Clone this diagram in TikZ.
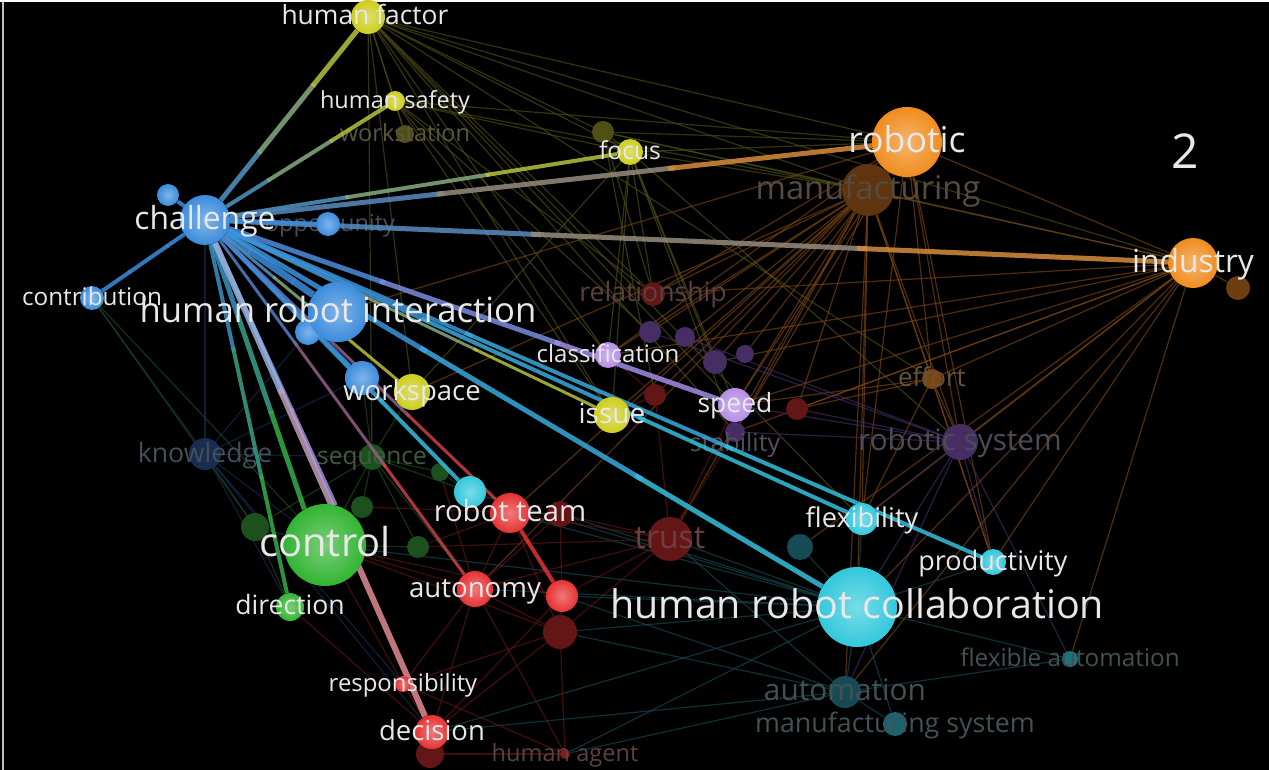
\documentclass[tikz,border=0pt]{standalone}
\usepackage{fontspec}
\setmainfont{Open Sans}
\usetikzlibrary{calc}

\definecolor{bluec}{RGB}{60,140,220}
\definecolor{yelc}{RGB}{205,205,30}
\definecolor{orac}{RGB}{240,140,30}
\definecolor{purc}{RGB}{180,140,230}
\definecolor{cyac}{RGB}{50,200,220}
\definecolor{grec}{RGB}{50,180,50}
\definecolor{redc}{RGB}{230,50,50}
\definecolor{labc}{RGB}{232,232,232}
% dim colours
\definecolor{dbrown}{RGB}{95,52,15}
\definecolor{dolive}{RGB}{80,80,22}
\definecolor{dred}{RGB}{100,22,22}
\definecolor{dpur}{RGB}{70,45,100}
\definecolor{dteal}{RGB}{22,75,85}
\definecolor{dgreen}{RGB}{28,80,28}
\definecolor{dnavy}{RGB}{25,45,80}
\definecolor{dtxt}{RGB}{68,68,68}

\pgfdeclarelayer{background}
\pgfdeclarelayer{faint}
\pgfdeclarelayer{dimn}
\pgfdeclarelayer{links}
\pgfsetlayers{background,faint,dimn,links,main}

\tikzset{
  bub/.style 2 args={circle, inner sep=0pt, minimum size=#2pt, shading=radial,
    inner color=#1!65!white, outer color=#1},
  dbub/.style 2 args={circle, inner sep=0pt, minimum size=#2pt, fill=#1},
  lbl/.style={text=labc, inner sep=0pt, anchor=base, yshift={-0.3*#1pt},
    font=\fontsize{#1}{#1}\selectfont},
  dlbl/.style 2 args={lbl=#1, text=#2},
  faint/.style={line width=1.2pt, draw=#1, opacity=.65},
  link/.style={line width=#1pt, opacity=.85},
}

% link with a colour run from one end to the other
\newcommand\link[5]{%
  \draw[link=#5, #3!85!#4] (#1) -- ($(#1)!.34!(#2)$);
  \draw[link=#5, #3!50!#4] ($(#1)!.33!(#2)$) -- ($(#1)!.67!(#2)$);
  \draw[link=#5, #3!15!#4] ($(#1)!.66!(#2)$) -- (#2);
}

\begin{document}
\begin{tikzpicture}[x=1pt,y=-1pt]
\begin{pgfonlayer}{background}
  \path[use as bounding box, fill=black] (0,0) rectangle (1269,768);
  \draw[white!75!black, line width=2pt] (3,0) -- (3,768);
\end{pgfonlayer}

% dim items
\begin{pgfonlayer}{dimn}
  \node[dbub={dbrown}{52}] (mfg) at (868,188) {};
  \node[dbub={dbrown!90!orac}{24}] (indd) at (1238,286) {};
  \node[dbub={dolive}{18}] (wst) at (405,132) {};
  \node[dbub={dolive}{22}] (fod) at (603,130) {};
  \node[dbub={dred}{24}] (rel) at (653,292) {};
  \node[dbub={dbrown!80!orac}{20}] (eff) at (932,377) {};
  \node[dbub={dpur}{36}] (rsys) at (960,440) {};
  \node[dbub={dnavy}{32}] (know) at (205,452) {};
  \node[dbub={dgreen}{26}] (seq) at (372,455) {};
  \node[dbub={dpur}{20}] (stab) at (735,430) {};
  \node[dbub={dred}{44}] (trust) at (670,537) {};
  \node[dbub={dteal}{32}] (autom) at (845,690) {};
  \node[dbub={dteal!80!cyac}{24}] (msys) at (895,722) {};
  \node[dbub={dteal!70!cyac}{16}] (fla) at (1070,657) {};
  \node[dbub={dred!80!redc}{10}] (hag) at (565,752) {};
  \node[dbub={dred}{28}] (decd) at (430,752) {};
  \node[dbub={dred}{34}] (red3) at (560,630) {};
  \node[dbub={dpur}{22}] (p1) at (650,330) {};
  \node[dbub={dpur}{20}] (p2) at (685,335) {};
  \node[dbub={dpur}{24}] (p3) at (715,360) {};
  \node[dbub={dpur}{18}] (p4) at (745,352) {};
  \node[dbub={dred}{22}] (r1) at (655,393) {};
  \node[dbub={dred}{22}] (r2) at (797,407) {};
  \node[dbub={dred}{26}] (r4) at (560,512) {};
  \node[dbub={dgreen}{28}] (g1) at (255,525) {};
  \node[dbub={dgreen}{22}] (g2) at (418,545) {};
  \node[dbub={dgreen}{22}] (g3) at (362,505) {};
  \node[dbub={dgreen}{18}] (g4) at (440,470) {};
  \node[dbub={dteal}{26}] (tl1) at (800,545) {};

  \node[dlbl={32.7}{dtxt!90!orac}] (mfg-l) at (mfg) {manufacturing};
  \node[dlbl={23.6}{dtxt!85!yelc}] (wst-l) at (wst) {workstation};
  \node[dlbl={26.6}{dtxt!85!redc}] (rel-l) at (rel) {relationship};
  \node[dlbl={26}{dtxt!80!orac}] (eff-l) at (eff) {effort};
  \node[dlbl={29.7}{dtxt!90!purc}] (rsys-l) at (rsys) {robotic system};
  \node[dlbl={26.7}{dtxt!85!bluec}] (know-l) at (know) {knowledge};
  \node[dlbl={24.5}{dtxt!80!grec}] (seq-l) at (seq) {sequence};
  \node[dlbl={25}{dtxt!85!purc}] (stab-l) at (735,442) {stability};
  \node[dlbl={32}{dtxt!75!redc}] (trust-l) at (trust) {trust};
  \node[dlbl={29.8}{dtxt!90!cyac}] (autom-l) at (autom) {automation};
  \node[dlbl={26.8}{dtxt!90!cyac}] (msys-l) at (msys) {manufacturing system};
  \node[dlbl={24.3}{dtxt!90!cyac}] (fla-l) at (fla) {flexible automation};
  \node[dlbl={23.6}{dtxt!85!redc}] (hag-l) at (hag) {human agent};
  \node[dlbl={23.5}{dtxt!85!bluec}] (opp-l) at (330,222) {opportunity};
\end{pgfonlayer}

% bright items
\node[bub={bluec}{50}] (chal) at (205,218) {};
\node[bub={bluec}{22}] (strat) at (168,193) {};
\node[bub={bluec}{24}] (opp) at (328,222) {};
\node[bub={bluec}{24}] (contr) at (92,296) {};
\node[bub={bluec}{26}] (hri2) at (308,330) {};
\node[bub={bluec}{60}] (hri) at (338,310) {};
\node[bub={bluec}{34}] (wsb) at (362,376) {};
\node[bub={yelc}{36}] (wsp) at (412,390) {};
\node[bub={yelc}{34}] (hf) at (368,15) {};
\node[bub={yelc}{20}] (hs) at (395,99) {};
\node[bub={yelc}{26}] (foc) at (630,150) {};
\node[bub={orac}{70}] (rob) at (907,140) {};
\node[bub={orac}{50}] (ind) at (1193,261) {};
\node[bub={purc}{26}] (cls) at (608,353) {};
\node[bub={purc}{34}] (spd) at (735,403) {};
\node[bub={yelc}{36}] (iss) at (612,413) {};
\node[bub={cyac}{32}] (flex) at (862,517) {};
\node[bub={cyac}{26}] (prod) at (993,560) {};
\node[bub={cyac}{80}] (hrc) at (857,605) {};
\node[bub={grec}{82}] (ctrl) at (325,543) {};
\node[bub={grec}{28}] (dir) at (290,605) {};
\node[bub={cyac}{32}] (rtc) at (470,490) {};
\node[bub={redc}{40}] (rteam) at (510,511) {};
\node[bub={redc}{36}] (aut) at (475,587) {};
\node[bub={redc}{32}] (red2) at (562,594) {};
\node[bub={redc}{16}] (resp) at (403,682) {};
\node[bub={redc}{34}] (dec) at (432,730) {};

% faint links
\begin{pgfonlayer}{faint}
  \foreach \b in {wst,hs,fod,foc,rob,mfg,ind,rel,cls,iss,eff,seq,wsp,stab,spd,flex}
    \draw[faint=dolive] (hf) -- (\b);
  \foreach \b in {wst,foc,rob,mfg,cls,iss,rel,p1}
    \draw[faint=dolive] (hs) -- (\b);
  \foreach \b in {fod,mfg,rob,iss,rel,cls,wsp,stab,spd,rsys,p3}
    \draw[faint=dolive] (foc) -- (\b);
  \foreach \b in {rob,mfg,ind,rel,r1}
    \draw[faint=dolive] (fod) -- (\b);
  \foreach \b in {rob,ind,cls,spd,iss,rel,rsys,eff,flex,prod,hrc,trust,stab,autom,rteam,aut,p1,p2,p3,wsp,r1,r2}
    \draw[faint=dbrown!80!orac] (mfg) -- (\b);
  \foreach \b in {ind,rsys,flex,prod,eff,cls,spd,rel,stab,hri,p4}
    \draw[faint=dbrown!80!orac] (rob) -- (\b);
  \foreach \b in {indd,eff,rsys,flex,prod,hrc,spd,stab,cls,rel,fla,p3,r2,autom,tl1}
    \draw[faint=dbrown!80!orac] (ind) -- (\b);
  \foreach \b in {rsys,spd,prod,flex,r2}
    \draw[faint=dbrown!80!orac] (eff) -- (\b);
  \foreach \b in {flex,prod,hrc,spd,stab,p1,p2,autom,fla,r2}
    \draw[faint=dpur] (rsys) -- (\b);
  \foreach \b in {autom,msys,fla,prod,flex,trust,red2,red3,aut,dec,hag,rteam,ctrl,tl1,rtc,r4}
    \draw[faint=dteal] (hrc) -- (\b);
  \foreach \b in {msys,fla,red3,dec,hag,trust,red2}
    \draw[faint=dteal] (autom) -- (\b);
  \foreach \a/\b in {red3/red2,red3/aut,red3/dec,red3/hag,red3/resp,red3/trust,red3/rteam,
      aut/dec,aut/resp,aut/trust,aut/hag,rteam/trust,rteam/aut,red2/trust,red2/dec,
      decd/hag,dec/resp,trust/r1,trust/r4,r4/aut,r4/red2,r1/iss,r1/cls,r2/stab,
      trust/stab,trust/spd,red2/ctrl,aut/ctrl,dec/dir,resp/ctrl,r4/g3,hag/resp,
      red3/ctrl,rteam/g2,trust/g2,aut/g4}
    \draw[faint=dred] (\a) -- (\b);
  \foreach \b in {contr,chal,ctrl,dir,seq,hri2,wsb,g1,resp,dec}
    \draw[faint=dnavy] (know) -- (\b);
  \foreach \a/\b in {seq/ctrl,seq/g1,seq/g2,seq/g3,seq/wsb,seq/wsp,seq/rtc,seq/aut,
      g1/ctrl,g1/dir,g3/ctrl,g2/ctrl,g4/rtc,g4/seq,contr/g1,contr/ctrl}
    \draw[faint=dgreen] (\a) -- (\b);
\end{pgfonlayer}

% bright links
\begin{pgfonlayer}{links}
  \link{chal}{hf}{bluec}{yelc}{5}
  \link{chal}{hs}{bluec}{yelc}{4}
  \link{chal}{foc}{bluec}{yelc}{4}
  \link{chal}{rob}{bluec}{orac}{5}
  \link{chal}{ind}{bluec}{orac}{5}
  \link{chal}{hri}{bluec}{bluec}{7}
  \link{chal}{contr}{bluec}{bluec}{4}
  \link{chal}{strat}{bluec}{bluec}{4}
  \link{chal}{opp}{bluec}{bluec}{4}
  \link{chal}{spd}{bluec}{purc}{5}
  \link{chal}{iss}{bluec}{yelc}{3}
  \link{chal}{wsp}{bluec}{yelc}{3}
  \link{chal}{flex}{bluec}{cyac}{4}
  \link{chal}{prod}{bluec}{cyac}{4}
  \link{chal}{hrc}{bluec}{cyac}{5}
  \link{chal}{rtc}{bluec}{cyac}{4}
  \link{chal}{wsb}{bluec}{bluec}{4}
  \link{chal}{ctrl.120}{bluec}{grec}{5}
  \link{chal}{ctrl.75}{bluec}{purc}{4}
  \link{chal}{dir}{bluec}{grec}{4}
  \link{chal}{dec}{bluec}{redc!60!white}{6}
  \link{chal}{aut}{bluec}{redc}{3}
  \link{chal}{rteam}{bluec}{redc}{3}
  \link{rteam}{red2}{redc}{redc}{4}
\end{pgfonlayer}

% labels
\node[lbl=31.8] (chal-l) at (chal) {challenge};
\node[lbl=24.3] (contr-l) at (contr) {contribution};
\node[lbl=34.7] (hri-l) at (hri) {human robot interaction};
\node[lbl=27.5] (wsp-l) at (wsp) {workspace};
\node[lbl=26.4] (hf-l) at (365,15) {human factor};
\node[lbl=23.5] (hs-l) at (hs) {human safety};
\node[lbl=24.7] (foc-l) at (foc) {focus};
\node[lbl=35.6] (rob-l) at (rob) {robotic};
\node[lbl=31.8] (ind-l) at (ind) {industry};
\node[lbl=24] (cls-l) at (cls) {classification};
\node[lbl=26.5] (spd-l) at (spd) {speed};
\node[lbl=28] (iss-l) at (iss) {issue};
\node[lbl=27.2] (flex-l) at (flex) {flexibility};
\node[lbl=27] (prod-l) at (prod) {productivity};
\node[lbl=39.4] (hrc-l) at (hrc) {human robot collaboration};
\node[lbl=39.9] (ctrl-l) at (ctrl) {control};
\node[lbl=26.6] (dir-l) at (dir) {direction};
\node[lbl=29.2] (rteam-l) at (rteam) {robot team};
\node[lbl=27.6] (aut-l) at (aut) {autonomy};
\node[lbl=23.9] (resp-l) at (resp) {responsibility};
\node[lbl=27.5] (dec-l) at (dec) {decision};
\node[lbl=48] (num) at (1185,152) {2};
\end{tikzpicture}
\end{document}
